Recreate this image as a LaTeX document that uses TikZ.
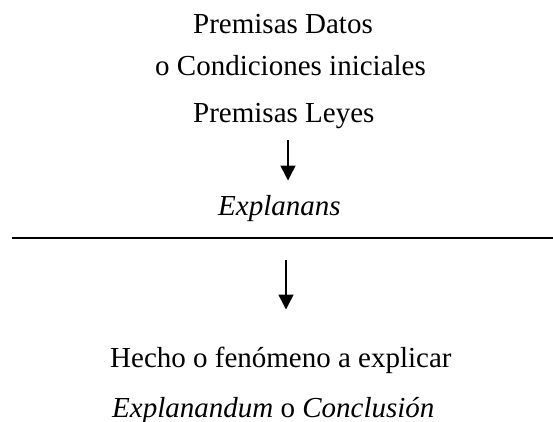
\documentclass[tikz,border=0pt]{standalone}
\usepackage{fontspec}
\setmainfont{Liberation Serif}
\usetikzlibrary{arrows.meta}
\tikzset{
  txt/.style={anchor=base west, inner sep=0pt, font=\fontsize{29}{34}\selectfont},
  flow/.style={line width=1.5pt, -{Triangle[width=15pt,length=15pt]}},
  rule/.style={line width=2pt}
}
\begin{document}
\begin{tikzpicture}[x=1pt,y=-1pt]
\useasboundingbox (0,0) rectangle (553,421);
\node[txt] (d1) at (193,33) {Premisas Datos};
\node[txt] (d2) at (155,75) {o Condiciones iniciales};
\node[txt] (d3) at (193,122) {Premisas Leyes};
\node[txt] (ex) at (218,215) {\itshape Explanans};
\node[txt] (he) at (110,367) {Hecho o fenómeno a explicar};
\node[txt] (ed) at (112,417) {\textit{Explanandum} o \textit{Conclusión}};
\coordinate (a1s) at (288,140);
\coordinate (a1e) at (288,180.5);
\coordinate (a2s) at (286,260);
\coordinate (a2e) at (286,309.5);
\coordinate (l1) at (12,237.5);
\coordinate (l2) at (553,237.5);
\draw[flow] (a1s) -- (a1e);
\draw[rule] (l1) -- (l2);
\draw[flow] (a2s) -- (a2e);
\end{tikzpicture}
\end{document}
